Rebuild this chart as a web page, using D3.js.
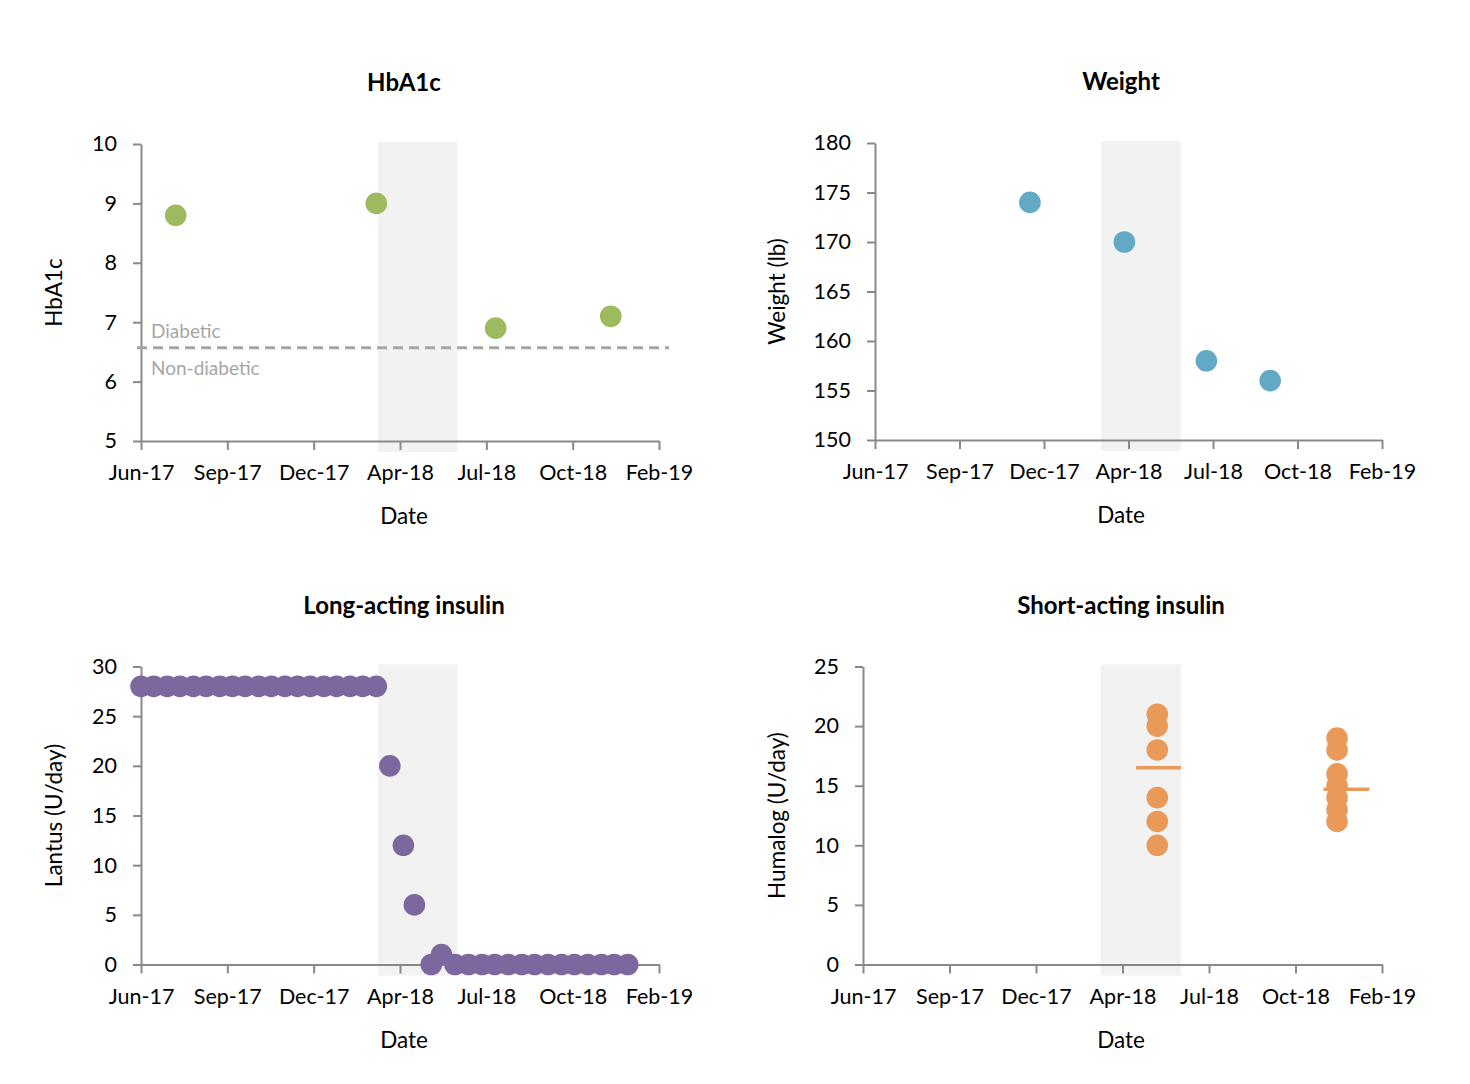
<!DOCTYPE html>
<html><head><meta charset="utf-8">
<script src="https://cdn.jsdelivr.net/npm/d3@7"></script>
<style>
body{margin:0;background:#fff;}
svg text{font-family:Lato,"Open Sans",sans-serif;}
</style></head><body>
<svg id="chart" width="1470" height="1084"></svg>
<script>
// ---------- data ----------
const xTickDates = ["2017-06-01","2017-09-11","2017-12-22","2018-04-03","2018-07-14","2018-10-24","2019-02-03"];
const xTickLabels = ["Jun-17","Sep-17","Dec-17","Apr-18","Jul-18","Oct-18","Feb-19"];

const hba1cDates = ["2017-07-12","2018-03-06","2018-07-25","2018-12-08"];
const hba1cValues = [8.8, 9.0, 6.9, 7.1];
const hba1cThreshold = 6.57;
const thresholdLabels = ["Diabetic","Non-diabetic"];

const weightDates = ["2017-12-05","2018-03-29","2018-07-06","2018-09-21"];
const weightValues = [174, 170, 158, 156];

const lantusDates = ["2017-06-01","2017-06-16","2017-07-02","2017-07-17","2017-08-02","2017-08-17",
  "2017-09-02","2017-09-17","2017-10-02","2017-10-18","2017-11-02","2017-11-18","2017-12-03",
  "2017-12-18","2018-01-03","2018-01-18","2018-02-03","2018-02-18","2018-03-06",
  "2018-03-22","2018-04-07","2018-04-20","2018-05-10","2018-05-22",
  "2018-06-07","2018-06-23","2018-07-09","2018-07-24","2018-08-09","2018-08-25","2018-09-09",
  "2018-09-25","2018-10-11","2018-10-26","2018-11-11","2018-11-27","2018-12-12","2018-12-28"];
const lantusValues = [28,28,28,28,28,28,28,28,28,28,28,28,28,28,28,28,28,28,28,
  20,12,6,0,1,
  0,0,0,0,0,0,0,0,0,0,0,0,0,0];

const humalogDates = ["2018-05-14","2018-05-14","2018-05-14","2018-05-14","2018-05-14","2018-05-14",
  "2018-12-12","2018-12-12","2018-12-12","2018-12-12","2018-12-12","2018-12-12","2018-12-12"];
const humalogValues = [21,20,18,14,12,10, 19,18,16,15,14,13,12];
const humalogLineStart = ["2018-04-19","2018-11-26"];
const humalogLineEnd = ["2018-06-11","2019-01-19"];
const humalogLineValues = [16.5, 14.7];

const shadeHbA1c = ["2018-03-08","2018-06-10"];
const shadeWeight = ["2018-03-01","2018-06-05"];
const shadeLantus = ["2018-03-08","2018-06-10"];
const shadeHumalog = ["2018-03-08","2018-06-11"];

const xDomain = ["2017-06-01","2019-02-03"];

// ---------- drawing ----------
const parse = d3.timeParse("%Y-%m-%d");
const svg = d3.select("#chart");
const AXIS = "#898989";
const FONT = 21.5;
const LFONT = 22.5;

function panel(cfg){
  const g = svg.append("g");
  const x = d3.scaleTime().domain(xDomain.map(parse)).range([cfg.left, cfg.right]);
  const y = d3.scaleLinear().domain(cfg.yDomain).range([cfg.bottom, cfg.top]);

  g.append("rect")
    .attr("x", x(parse(cfg.shade[0]))).attr("width", x(parse(cfg.shade[1])) - x(parse(cfg.shade[0])))
    .attr("y", cfg.top - 2).attr("height", cfg.bottom - cfg.top + 13)
    .attr("fill", "#f2f2f2");

  const xa = g.append("g").attr("transform", `translate(0,${cfg.bottom})`)
    .call(d3.axisBottom(x).tickValues(xTickDates.map(parse))
      .tickFormat((d,i)=>xTickLabels[i]).tickSize(9).tickSizeOuter(0).tickPadding(15));
  const ya = g.append("g").attr("transform", `translate(${cfg.left},0)`)
    .call(d3.axisLeft(y).tickValues(cfg.yTicks).tickFormat(d3.format("d"))
      .tickSize(8).tickSizeOuter(0).tickPadding(16));
  [xa, ya].forEach(a=>{
    a.selectAll("path,line").attr("stroke", AXIS).attr("stroke-width", 2);
    a.selectAll("text").attr("font-size", FONT).attr("fill", "#000").attr("font-family","Lato");
  });

  g.append("text").attr("x", cfg.cx).attr("y", cfg.top - 53)
    .attr("text-anchor","middle").attr("font-size", 24).attr("font-weight","bold").text(cfg.title);
  g.append("text").attr("x", cfg.cx).attr("y", cfg.bottom + 83)
    .attr("text-anchor","middle").attr("font-size", LFONT).text("Date");
  const cy = (cfg.top + cfg.bottom)/2;
  g.append("text").attr("transform", `translate(${cfg.yLabelX},${cy}) rotate(-90)`)
    .attr("text-anchor","middle").attr("font-size", LFONT).text(cfg.yLabel);

  return {g, x, y};
}

const R = 10.8;

// Panel 1: HbA1c
{
  const {g, x, y} = panel({left:141, right:659, top:144, bottom:441, yDomain:[5,10], yTicks:[5,6,7,8,9,10],
    title:"HbA1c", yLabel:"HbA1c", yLabelX:62, cx:404, shade:shadeHbA1c});
  g.append("line").attr("x1", 137).attr("x2", 669)
    .attr("y1", y(hba1cThreshold)).attr("y2", y(hba1cThreshold))
    .attr("stroke", "#a6a6a6").attr("stroke-width", 3.2).attr("stroke-dasharray", "10,6");
  g.append("text").attr("x", 151).attr("y", y(hba1cThreshold) - 10).attr("font-size", 19)
    .attr("fill","#a6a6a6").text(thresholdLabels[0]);
  g.append("text").attr("x", 151).attr("y", y(hba1cThreshold) + 27).attr("font-size", 19)
    .attr("fill","#a6a6a6").text(thresholdLabels[1]);
  g.selectAll("circle.d").data(hba1cValues).enter().append("circle")
    .attr("cx", (d,i)=>x(parse(hba1cDates[i]))).attr("cy", d=>y(d)).attr("r", R).attr("fill", "#9bbb5e");
}

// Panel 2: Weight
{
  const {g, x, y} = panel({left:875, right:1382, top:143, bottom:440, yDomain:[150,180], yTicks:[150,155,160,165,170,175,180],
    title:"Weight", yLabel:"Weight (lb)", yLabelX:785, cx:1121, shade:shadeWeight});
  g.selectAll("circle.d").data(weightValues).enter().append("circle")
    .attr("cx", (d,i)=>x(parse(weightDates[i]))).attr("cy", d=>y(d)).attr("r", R).attr("fill", "#62a9c5");
}

// Panel 3: Long-acting insulin
{
  const {g, x, y} = panel({left:141, right:659, top:666.5, bottom:964.5, yDomain:[0,30], yTicks:[0,5,10,15,20,25,30],
    title:"Long-acting insulin", yLabel:"Lantus (U/day)", yLabelX:62, cx:404, shade:shadeLantus});
  g.selectAll("circle.d").data(lantusValues).enter().append("circle")
    .attr("cx", (d,i)=>x(parse(lantusDates[i]))).attr("cy", d=>y(d)).attr("r", R).attr("fill", "#7c679e");
}

// Panel 4: Short-acting insulin
{
  const {g, x, y} = panel({left:863, right:1382, top:666.5, bottom:964.5, yDomain:[0,25], yTicks:[0,5,10,15,20,25],
    title:"Short-acting insulin", yLabel:"Humalog (U/day)", yLabelX:785, cx:1121, shade:shadeHumalog});
  g.selectAll("circle.d").data(humalogValues).enter().append("circle")
    .attr("cx", (d,i)=>x(parse(humalogDates[i]))).attr("cy", d=>y(d)).attr("r", R).attr("fill", "#e99a58");
  g.selectAll("line.m").data(humalogLineValues).enter().append("line")
    .attr("x1", (d,i)=>x(parse(humalogLineStart[i]))).attr("x2", (d,i)=>x(parse(humalogLineEnd[i])))
    .attr("y1", d=>y(d)).attr("y2", d=>y(d)).attr("stroke", "#e99a58").attr("stroke-width", 3.5);
}
</script>
</body></html>
